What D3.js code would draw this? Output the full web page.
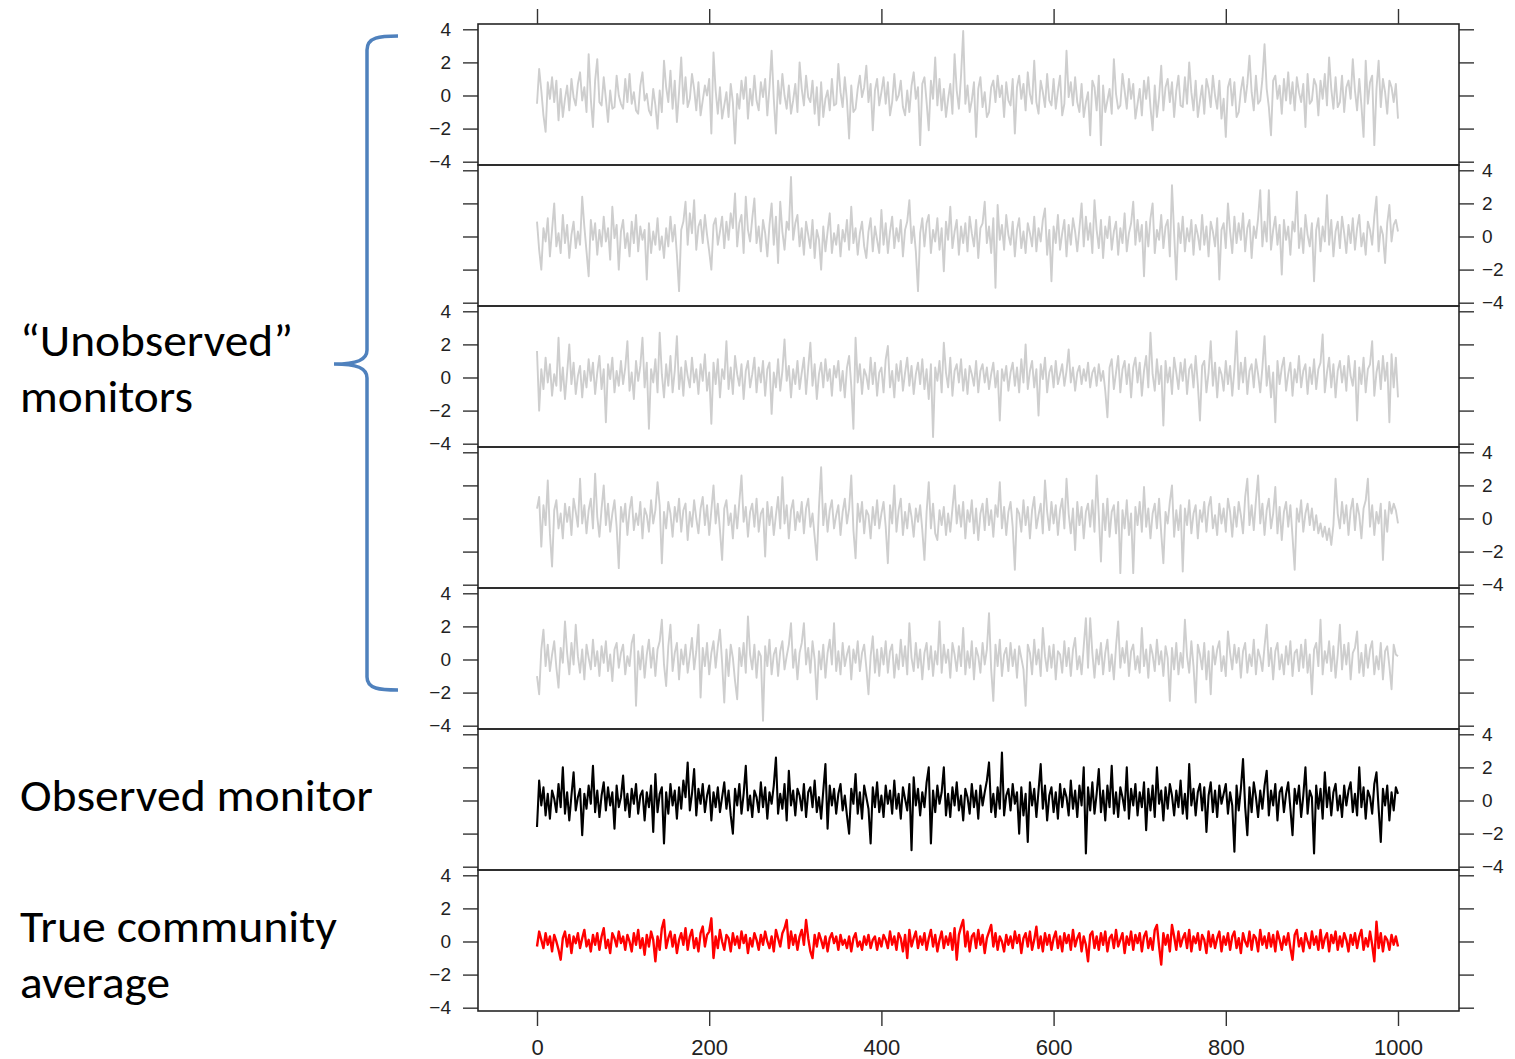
<!DOCTYPE html>
<html>
<head>
<meta charset="utf-8">
<title>Monitors vs community average</title>
<script src="https://cdn.jsdelivr.net/npm/d3@7"></script>
<style>
  html, body { margin: 0; background: #fff; }
  svg { display: block; }
</style>
</head>
<body>
<script>
// ---- Data: simulated readings, one value every 2.5 time units (0 … 1000) ----
const monitor1 = [
-0.5,1.6,0.3,-1.2,-2.2,0.8,-0.2,1.1,-0.4,0.9,-1.5,0.4,-1.3,-0.2,0.6,-0.9,1.0,-0.1,-0.6,0.7,
1.4,-0.3,0.5,-1.0,2.5,-0.2,-1.9,0.9,2.2,-0.4,-0.6,1.1,-0.2,-1.6,0.3,-0.8,-0.7,1.2,0.0,-0.5,
-0.8,1.0,-0.4,1.3,-0.5,0.2,-0.9,-1.1,0.6,1.4,-0.3,0.1,-0.9,-1.2,0.4,-0.6,-2.0,0.3,-1.0,2.1,
0.5,-0.4,1.5,-0.8,0.9,-1.6,0.2,2.3,-0.5,1.1,-0.7,-0.2,1.3,0.4,-0.9,0.8,-1.2,-0.3,0.6,0.0,
1.0,-2.3,2.6,0.3,-1.1,0.5,-1.4,-0.6,0.2,-1.3,0.7,-0.4,-2.9,0.1,-0.8,0.9,-0.2,1.1,-1.4,0.4,
-0.6,1.2,-0.3,-0.9,0.8,-0.1,1.0,-1.2,0.5,2.7,-0.2,-2.3,0.9,-0.5,1.3,0.0,-0.8,0.6,-1.1,-0.3,
0.7,-1.0,2.0,0.4,-0.6,1.2,-0.1,-0.4,0.9,-1.1,0.5,-1.8,0.8,-1.3,-0.2,0.3,-0.9,1.0,-0.6,-0.5,
1.9,0.2,-0.7,1.1,-0.3,-2.6,0.6,-1.0,-0.8,0.4,1.2,-0.1,0.5,1.8,-0.4,0.7,-2.1,0.3,1.0,-0.6,
0.2,1.1,-0.5,0.8,-1.2,-0.4,1.3,-0.3,0.0,0.9,-0.7,-1.2,0.3,-1.0,0.6,1.4,-0.2,0.5,-3.0,0.7,
1.1,-0.4,-2.1,0.9,-0.2,2.3,-0.6,1.0,-0.9,0.4,-1.3,-0.2,0.7,-1.1,2.5,0.3,-0.8,1.2,3.9,-0.5,
0.6,-1.0,-0.3,0.8,-2.5,0.4,1.1,-0.7,0.2,-1.3,-1.0,0.5,0.9,-0.4,1.2,-0.1,0.6,-1.3,0.8,-0.3,
-0.6,1.0,-2.3,0.5,1.2,-0.2,0.7,-0.9,1.4,0.1,-0.5,2.1,-0.4,-1.1,0.9,0.2,-0.7,1.3,-0.3,-0.6,
1.0,-0.8,0.3,1.2,-1.2,-0.5,2.7,-0.1,0.8,-0.6,1.1,-0.4,-1.0,0.7,-1.3,-0.4,0.2,-2.4,0.9,0.5,
-0.9,1.2,-3.0,0.6,-1.0,-0.3,0.4,-1.1,2.2,0.1,-0.8,-0.6,1.3,0.3,-0.8,1.0,-0.2,0.7,-1.4,-0.5,
0.4,-1.2,0.9,-0.2,1.1,-0.7,-2.1,0.6,-1.3,-0.1,1.8,-0.9,0.5,1.0,-0.4,0.8,-1.3,0.3,1.2,-0.6,
-0.7,1.1,-0.5,2.0,0.2,-0.9,0.9,-1.3,-0.3,0.6,-1.1,1.0,0.4,-0.7,1.2,0.0,-0.8,0.9,-1.4,-0.2,
-2.5,0.5,1.0,-0.6,0.8,-1.3,-1.0,0.3,1.1,-0.4,0.7,2.4,0.2,-0.9,1.2,-0.5,-0.3,1.0,3.1,0.4,
-0.7,-2.4,0.9,1.2,-0.2,0.6,-1.1,1.0,-0.3,1.4,-0.5,0.8,-0.9,1.1,0.2,-0.4,0.7,-1.9,1.3,-0.5,
-0.3,1.0,0.6,-1.2,0.9,-0.2,1.3,-0.6,2.3,0.4,-0.8,1.1,-0.7,-0.4,1.2,-1.0,0.5,0.9,-0.2,2.2,
0.3,-0.9,1.0,-0.6,-2.5,2.1,-0.5,0.8,1.2,-3.0,0.4,2.1,-0.7,1.0,0.2,-1.1,0.9,0.5,-0.4,0.7,
-1.4];

const monitor2 = [
0.9,-0.8,-2.0,0.5,-0.3,1.1,-1.2,0.4,2.0,-0.6,0.2,-1.0,1.3,-0.4,0.7,-1.3,0.1,0.9,-0.7,0.3,
-0.5,2.4,0.6,-0.9,-2.4,1.0,-0.2,0.8,-1.1,0.4,-0.6,1.2,-0.3,0.5,-1.4,1.8,-0.1,0.7,-2.0,0.3,
1.0,-0.7,0.2,-1.2,0.9,-0.4,1.3,-0.9,0.6,-0.2,0.4,-2.6,0.8,-1.0,0.3,-0.5,1.1,-0.8,0.0,-1.3,
0.5,-0.6,1.2,-0.3,0.7,-1.1,-3.3,0.4,0.9,2.1,-0.5,1.4,0.2,2.2,-0.8,0.6,1.0,-0.4,1.3,0.1,
-0.9,-2.0,0.7,1.1,-0.5,0.3,1.2,-0.7,0.9,-0.2,1.4,0.5,2.6,-0.6,0.8,1.3,-1.0,2.4,0.4,-0.3,
1.1,2.3,-0.4,0.6,-0.9,1.0,0.2,-1.2,0.7,2.0,-0.5,1.2,-1.6,2.1,0.3,-0.8,0.9,0.4,3.6,-0.2,
0.8,1.3,-0.6,0.5,-1.1,0.9,0.1,-0.7,1.0,-1.3,0.4,-0.2,-2.0,0.6,-0.9,0.3,1.4,-1.0,0.2,-0.5,
0.7,-1.2,0.4,-0.3,1.0,-0.8,1.8,-0.4,0.5,-1.1,0.2,0.9,-0.6,-1.3,0.3,1.1,-0.9,0.6,-0.2,-1.0,
1.6,-0.5,0.8,-1.0,0.3,1.2,-0.7,0.5,-0.3,1.0,-1.2,0.4,0.9,2.2,-0.4,0.6,-0.9,-3.3,0.2,1.1,
-0.6,0.8,1.3,-1.0,0.4,-0.3,1.1,-0.8,0.5,-2.1,0.9,-0.2,1.8,-0.7,0.3,1.0,-1.1,0.6,-0.4,0.8,
-0.9,1.2,0.2,-0.6,1.0,-1.3,0.5,0.8,2.1,-0.4,0.6,-1.0,1.1,-3.1,1.9,-0.2,0.7,-0.8,1.3,0.1,
-0.5,0.9,-1.2,0.4,1.1,-0.7,0.3,-1.0,0.8,0.2,-0.6,1.2,-0.9,0.5,-0.3,1.0,1.7,-1.1,0.4,-2.7,
0.6,-0.4,1.3,-0.8,0.2,1.0,-1.2,0.7,-0.5,1.1,0.3,-0.9,0.5,2.0,-0.6,1.2,-0.2,0.8,-1.0,2.2,
0.4,-0.7,1.0,-1.3,0.6,-0.1,1.2,-0.8,0.3,0.9,-1.1,0.5,-0.4,1.4,-0.9,0.2,0.8,2.1,-0.5,1.0,
-0.3,0.7,-2.4,0.9,-0.6,1.1,2.0,-1.0,0.4,-0.2,1.3,-0.7,0.6,1.0,-1.2,3.1,0.2,-2.6,0.8,-0.4,
1.2,-0.9,0.5,-0.3,1.0,-1.1,0.7,0.1,-0.8,1.3,-0.5,0.6,-1.2,0.9,0.3,-0.6,1.1,-2.6,0.4,0.8,
-0.7,2.0,0.3,-1.0,1.2,-0.4,0.8,-0.2,1.4,-0.9,0.5,1.0,-1.3,0.6,-0.1,1.1,2.8,-0.6,0.9,-0.3,
2.8,-0.8,0.4,1.2,-0.5,0.7,-2.3,1.0,-0.2,0.6,-1.1,0.9,0.3,2.7,-0.7,0.5,-1.0,1.3,0.1,-0.6,
0.8,-2.7,0.4,1.1,-0.9,0.6,-0.3,2.5,-0.5,1.0,-1.2,0.3,0.9,-0.7,1.2,0.2,-1.0,0.7,-0.4,1.1,
-0.8,0.5,1.3,-0.6,0.2,-1.1,0.9,0.4,-0.5,1.2,2.4,-0.9,0.6,0.1,-1.6,0.8,1.9,-0.3,0.7,1.0,
0.3];

const monitor3 = [
1.6,-2.0,0.5,-0.7,1.2,-0.3,0.8,-1.1,0.2,-0.5,2.4,-0.8,0.6,-1.3,0.3,2.0,-0.4,0.9,-1.0,0.1,
0.7,-1.2,0.4,-0.6,1.1,-0.2,0.9,-1.0,0.3,1.3,-0.7,0.5,-2.7,0.8,-0.1,1.2,-0.9,0.4,-0.5,1.0,
-0.4,0.6,2.2,-0.8,0.3,-1.3,1.0,-0.2,0.7,2.4,-0.6,0.9,-3.1,0.5,-0.3,1.1,-0.9,2.7,0.2,-1.2,
0.8,-0.5,1.3,-0.9,0.4,2.5,-0.7,0.6,-1.1,1.0,0.1,-0.6,1.2,-0.3,0.5,-1.0,0.8,-0.2,1.4,-0.8,
0.3,-2.8,0.9,-0.4,1.1,-1.2,0.5,-0.1,2.2,-0.7,0.6,-1.0,1.3,0.2,-0.5,0.8,-1.3,0.4,1.0,-0.6,
0.2,1.2,-0.9,0.6,-0.3,1.0,-1.1,0.5,0.9,-2.2,0.3,-0.6,1.1,-0.8,0.4,2.3,-0.2,0.7,-1.2,0.5,
-0.4,1.0,-0.7,0.3,1.2,-1.0,0.6,2.1,-0.5,0.8,-1.3,0.2,0.9,-0.6,1.1,-0.2,0.5,-1.1,0.7,0.0,
1.0,-0.8,0.4,-1.2,0.6,1.3,-0.5,-3.1,2.4,-0.3,0.8,-1.0,0.5,0.1,-0.7,1.2,-0.4,0.9,-1.1,0.3,
0.6,-0.9,1.1,1.9,-0.6,0.4,-1.2,0.8,-0.2,1.0,-0.8,0.3,1.2,-0.5,0.7,-1.0,0.2,0.9,-0.4,1.1,
-0.7,0.5,-1.3,0.8,-3.6,0.6,-0.2,1.0,-0.9,2.1,0.3,-0.6,1.2,-1.1,0.4,0.8,-0.3,1.1,-0.8,0.5,
-1.0,0.7,0.2,-0.5,1.0,-0.9,0.4,0.8,-0.3,0.6,-0.7,0.2,0.9,-0.6,0.4,-2.6,0.5,-0.2,0.7,-0.8,
0.3,0.9,-0.5,0.6,-0.9,1.1,-0.3,2.0,-0.7,0.4,1.0,-0.6,0.5,-2.3,0.8,-0.1,1.2,-0.9,0.3,0.7,
-0.6,1.0,-0.4,0.2,0.8,-0.5,0.4,1.7,-0.3,0.6,-0.8,0.3,0.7,-0.4,0.5,-0.2,0.9,-0.6,0.3,0.6,
-0.5,0.8,-0.2,0.4,-0.8,-2.4,0.6,1.1,-0.7,0.3,1.3,-0.9,0.5,1.0,-0.4,0.8,-1.2,0.6,1.2,-0.3,
0.9,-1.1,0.4,1.3,-0.6,2.7,0.2,-0.8,1.1,-0.4,0.7,-2.9,1.0,-0.3,0.6,-1.0,1.2,0.3,-0.7,0.9,
-0.2,1.1,-1.0,0.5,0.8,-0.6,1.3,-0.4,-2.6,0.7,1.0,-0.9,0.3,2.2,-0.5,0.9,-1.2,0.6,0.2,-0.8,
1.0,-0.4,0.7,-1.1,0.5,2.8,-0.7,0.9,-0.3,1.2,-1.0,0.4,0.8,-0.6,1.1,0.2,-0.9,0.6,2.5,-0.5,
0.7,-1.2,0.3,-2.7,1.0,-0.4,0.6,1.2,-0.8,0.2,0.9,-1.1,0.5,-0.3,1.3,-0.6,0.4,0.8,-1.0,0.6,
-0.4,1.1,-0.7,0.5,0.9,2.6,-0.9,0.3,1.2,-0.6,0.8,-1.2,0.4,1.0,-0.3,0.7,-0.8,1.3,0.1,-0.5,
1.0,-2.6,0.6,-0.4,1.2,-0.9,0.5,0.8,2.2,-1.1,0.3,1.0,-0.7,1.3,-0.2,0.9,-2.7,1.4,-0.6,1.2,
-1.2];

const monitor4 = [
0.6,1.3,-1.7,0.8,-0.4,2.3,-0.9,-2.9,0.5,1.1,-0.6,0.3,-1.2,0.9,-0.2,0.7,-1.0,1.2,0.4,-0.5,
2.4,-0.3,0.8,-0.9,0.5,1.2,-0.6,2.7,0.1,-1.1,0.6,2.0,-0.4,0.9,-0.8,0.3,1.1,-0.5,-3.0,0.7,
-0.2,0.9,-1.0,0.5,1.3,-0.7,0.3,-0.4,1.0,-1.2,0.6,0.2,-0.8,1.1,-0.3,0.5,2.2,0.8,-2.7,0.4,
-0.6,1.0,0.3,-1.1,0.7,-0.2,1.2,-0.8,0.5,0.9,-1.3,0.4,-0.5,1.1,0.0,-0.9,0.6,1.3,-0.4,0.8,
-1.0,0.5,2.0,-0.3,0.9,-0.7,-2.5,0.6,1.1,-0.4,0.3,-1.2,0.8,-0.6,1.0,2.6,-0.2,0.7,-1.1,0.4,
0.9,-0.5,1.2,-0.8,0.3,0.6,-2.3,1.0,-0.4,0.7,-1.0,0.2,1.3,-0.6,2.5,-0.3,0.8,-1.2,0.5,1.1,
-0.7,0.4,-0.2,1.0,-0.9,0.6,1.2,-0.5,0.3,-1.1,-2.5,0.7,3.1,-0.4,0.9,-0.8,0.5,1.1,-0.6,0.2,
0.8,-1.0,0.4,1.2,-0.3,0.6,2.6,-0.7,-2.4,0.9,-0.2,1.0,-0.9,0.5,0.2,-1.2,0.7,-0.4,1.1,-0.6,
0.3,1.0,-0.5,-2.7,0.8,-0.3,2.0,-0.8,0.5,1.2,-1.0,0.4,-0.6,0.9,0.1,-1.1,0.6,-0.2,0.8,-0.7,
-2.5,0.4,2.2,-0.6,0.9,-0.9,-1.3,0.5,-0.4,0.7,-1.0,0.3,-0.8,0.6,2.0,-0.3,0.8,-0.5,1.0,-1.2,
0.5,-0.2,1.1,-0.9,0.6,-1.3,0.3,0.9,-0.7,1.2,-0.4,0.5,-1.1,0.8,0.1,2.2,-0.6,0.7,-1.0,0.4,
1.0,-0.5,-3.1,0.6,0.3,-0.8,1.1,-0.4,0.7,-1.2,0.5,1.3,-0.6,0.2,0.9,-0.9,2.3,0.4,-0.7,1.0,
-0.3,0.8,-1.0,0.5,1.2,-0.6,2.4,0.3,-0.9,0.6,-1.9,1.0,-0.4,0.7,-1.2,0.4,0.9,-0.5,1.1,-0.8,
2.6,0.2,-2.6,0.9,-0.7,1.2,-1.1,0.4,0.8,-0.9,1.0,-3.3,0.5,-0.6,1.1,-1.0,0.3,-3.3,0.7,-0.4,
1.0,-0.8,1.9,-0.5,0.6,-1.2,0.3,0.9,-0.6,1.2,-0.9,-2.7,0.4,-0.3,1.0,2.0,-1.1,0.5,-0.7,0.8,
-3.2,0.6,-0.4,1.1,-0.9,0.3,0.8,-1.2,0.5,-0.2,1.0,-0.8,0.7,1.3,-0.6,0.2,-1.0,0.9,-0.3,0.6,
-0.8,1.2,0.4,-1.1,0.7,-0.5,1.0,0.2,-0.9,1.3,2.4,-0.4,0.8,-0.7,1.1,2.6,-0.3,0.9,-1.0,0.5,
1.2,-0.6,0.3,1.9,-0.9,0.7,-1.3,0.4,1.0,-0.5,0.8,-1.1,-3.1,0.6,-0.2,1.1,-0.8,0.3,0.9,-0.4,
0.6,-0.7,0.2,-0.9,-0.3,-1.1,-0.5,-1.3,-0.6,-1.6,-0.4,2.4,0.3,-0.6,1.0,-0.3,0.8,-1.0,0.5,1.2,
-0.7,0.9,0.2,-1.2,0.6,1.1,2.4,-0.5,0.8,-1.0,0.4,-0.3,0.9,-2.5,0.5,-0.8,1.0,0.3,0.9,0.5,
-0.3];

const monitor5 = [
-1.0,-2.1,0.6,1.8,-0.4,0.9,-0.7,0.3,1.1,-0.5,-1.7,0.7,-0.2,2.3,0.4,-0.9,1.0,-0.3,2.1,0.2,
-0.8,0.6,-1.2,0.9,0.1,-0.6,1.2,-0.4,0.5,-1.0,0.8,-0.2,1.1,-0.7,0.3,-1.3,0.6,1.0,-0.5,0.4,
0.9,-0.9,0.2,-0.4,1.0,1.5,-2.8,0.5,-0.6,0.8,-1.1,0.3,1.2,-0.5,0.7,-1.0,0.6,1.1,2.4,-0.3,
-1.6,0.8,2.1,-0.7,0.4,1.0,-1.2,0.6,-0.3,0.9,-0.8,0.2,1.3,-0.6,0.5,2.1,-2.3,0.7,-0.4,1.0,
-0.9,0.4,1.1,-0.5,0.8,1.8,-0.2,-2.6,0.6,-1.0,0.9,0.1,-1.3,-2.4,0.7,-0.4,1.0,-0.8,2.6,0.3,
-0.6,0.9,-1.1,0.5,0.2,-3.7,0.8,-0.4,1.2,-0.9,0.3,0.7,-1.0,0.5,1.1,-0.6,0.2,0.9,2.2,-0.5,
0.6,-1.2,0.4,1.0,2.2,-0.3,0.7,-0.8,1.1,0.0,-2.4,0.5,-0.6,0.9,-1.1,0.4,1.2,-0.3,2.2,-0.7,
0.5,-0.9,1.0,-0.4,0.3,0.8,-1.2,0.6,-0.2,1.1,-0.7,0.4,0.9,-0.5,-2.1,0.2,1.4,-0.8,0.6,-1.0,
0.7,-0.3,1.1,-0.8,0.5,0.9,-1.1,0.3,-0.6,1.2,-0.4,0.8,-0.9,2.2,0.1,-0.7,1.0,-0.5,0.6,-1.2,
0.4,1.0,-0.6,0.8,-1.0,0.5,-0.3,2.3,-0.8,0.9,-0.2,0.6,-1.1,1.0,0.3,-0.7,0.8,-0.4,1.9,-0.9,
0.5,-0.5,1.1,-1.2,0.7,0.2,-0.8,1.0,-0.3,0.6,2.8,-0.6,-2.5,0.9,-0.4,1.2,-1.0,0.3,0.7,-0.7,
1.0,-0.4,0.6,-1.1,0.8,0.1,-0.6,-2.8,0.9,0.4,-0.9,1.2,-0.3,0.6,-1.0,1.9,0.2,-0.7,0.8,-0.5,
0.9,-1.2,0.5,0.3,-0.8,1.1,-0.4,0.7,-1.0,0.6,1.3,-0.6,0.2,-0.9,0.8,2.5,-0.5,2.5,0.4,-1.1,
0.6,-0.3,1.0,-0.9,0.4,1.2,-0.7,0.3,-1.2,0.8,2.3,-0.5,0.7,-0.2,1.1,-1.0,0.5,0.9,-0.6,0.2,
-0.8,1.9,-0.4,0.6,-1.1,0.9,0.3,-0.7,1.2,-0.3,0.5,-1.0,0.8,0.1,-2.5,0.7,-0.6,1.0,-0.9,0.4,
-0.5,2.4,0.2,-0.8,1.1,-0.4,-2.6,0.9,0.3,-0.6,1.0,-1.2,0.5,-2.1,0.8,-0.3,0.6,1.1,-0.7,0.2,
-1.0,1.7,0.4,-0.6,0.9,-0.2,0.7,-1.1,0.5,1.0,-0.8,0.3,-0.4,1.2,-0.9,0.6,0.1,-0.7,0.8,2.1,
-0.4,0.7,-1.2,0.5,1.0,-0.6,0.3,-0.9,0.8,-0.3,1.1,-1.0,0.4,0.6,-0.7,0.9,-0.5,1.2,-0.8,0.3,
-2.1,0.6,1.0,-0.4,2.4,-0.9,0.5,-0.2,1.1,-0.7,0.8,-1.1,0.3,2.1,-0.6,0.9,-0.3,1.0,-1.2,0.4,
0.7,1.7,-0.8,0.4,-1.0,0.9,-0.5,0.6,1.1,-0.9,0.2,-0.6,1.0,-1.2,0.5,0.8,-0.4,-1.8,0.9,0.3,
0.2];

const observedMonitor = [
-1.6,1.2,-0.3,0.8,-0.9,0.4,-1.1,0.6,0.1,-0.7,1.0,-0.4,2.0,-0.8,0.5,-1.2,0.3,1.7,-0.6,0.2,
0.7,-2.1,0.4,-0.5,0.9,-0.2,2.1,-0.7,0.6,-1.0,0.3,1.1,-0.6,0.8,-0.3,0.5,-1.7,0.9,-0.4,0.2,
1.5,-0.6,0.4,-1.0,0.7,-0.2,1.0,-0.8,0.3,0.6,-1.2,0.5,-0.4,0.9,-1.9,1.6,-0.7,0.4,0.8,-2.6,
0.5,-0.8,1.0,-0.3,0.6,-1.1,0.8,-0.5,1.2,0.2,2.3,-0.6,0.4,1.9,-0.9,0.7,-0.2,1.0,-0.7,0.3,
0.9,-1.2,0.5,-0.4,0.8,-0.7,0.2,1.1,-0.5,0.6,-0.9,-2.0,0.7,-0.3,1.0,-0.8,0.4,2.1,-0.6,0.3,
-1.0,0.6,0.2,-0.7,1.1,-0.4,0.8,-1.1,0.5,-0.2,0.9,2.6,-0.8,0.4,-0.5,1.0,-1.2,1.8,-0.3,0.6,
-0.9,0.7,0.3,-0.6,1.0,-1.0,0.5,0.8,-0.4,1.2,-0.7,0.2,-1.1,0.6,2.2,-1.7,0.9,-0.3,0.7,-0.8,
0.4,1.0,-0.6,0.3,-0.9,-2.0,0.7,-0.2,1.6,-0.8,0.5,-1.1,0.9,0.2,-0.5,-2.6,0.8,-0.4,1.1,-0.7,
0.3,-1.0,0.9,-0.2,0.6,-0.8,1.2,-0.5,0.4,-1.1,0.8,0.1,-0.6,1.0,-3.0,1.4,-0.3,0.7,-0.9,0.5,
-0.4,1.1,2.0,-2.6,0.6,-0.7,0.9,-0.2,0.5,2.0,-0.9,0.4,-1.0,0.8,-0.3,1.1,-0.6,0.3,-1.2,0.7,
0.2,-0.8,1.0,-0.4,0.6,-1.1,0.9,-0.3,0.5,1.2,2.3,-0.7,0.4,-1.0,0.8,-0.5,2.9,-0.9,0.3,0.7,
-0.6,1.0,-0.2,0.5,-2.0,0.8,-0.9,0.4,-2.5,1.1,-0.3,0.7,-1.0,0.6,2.2,-0.5,0.9,-1.2,0.3,0.8,
-0.7,0.5,-1.1,1.0,-0.4,0.7,0.2,-0.9,1.2,-0.5,0.6,-1.0,0.9,-0.3,2.0,-3.2,0.8,-0.6,1.1,-0.8,
0.4,1.9,-0.7,0.6,-1.2,0.9,-0.4,2.1,-0.8,0.5,-1.0,0.8,0.2,-0.6,2.0,-1.1,0.7,-0.3,1.0,-0.9,
0.5,-0.4,1.1,-1.8,0.7,-0.6,0.9,-1.0,2.0,-0.2,0.6,-1.2,0.8,-0.5,1.0,0.3,-0.9,0.6,-0.4,1.2,
-0.8,0.4,-1.1,2.2,-0.3,0.7,-0.9,0.5,1.0,-0.6,0.8,-1.9,0.3,1.1,-0.7,0.6,-1.0,0.9,-0.2,0.4,
1.0,-0.8,0.5,-0.3,-3.1,0.9,-0.6,0.7,2.5,-0.4,-2.1,0.8,-0.7,1.1,0.2,-1.0,0.6,-0.5,0.9,1.8,
-0.9,0.6,-0.3,1.0,-1.2,0.5,0.8,-0.7,0.4,1.1,-0.5,-2.1,0.7,-0.2,0.9,-1.0,0.3,2.0,-0.8,0.6,
0.2,-3.2,0.9,-0.5,0.7,-1.1,1.7,-0.4,0.8,-0.9,0.5,1.0,-0.6,0.3,-1.0,0.9,-0.3,0.6,1.1,-0.7,
0.4,-0.9,2.0,-0.4,0.8,-1.1,0.6,0.2,-0.8,1.0,1.7,-0.5,-2.5,0.7,-0.3,0.9,-1.2,0.5,-0.6,0.8,
0.4];

const communityAverage = [
-0.3,0.6,0.1,-0.4,0.5,-0.2,0.3,-0.6,0.4,0.0,-0.5,-1.1,0.2,0.6,-0.3,0.4,-0.7,0.3,-0.1,0.5,
-0.4,0.2,0.7,-0.3,0.1,-0.6,0.4,-0.2,0.5,-0.5,0.3,0.8,-0.4,0.1,-0.7,0.5,0.2,-0.3,0.6,-0.1,
0.3,-0.5,0.4,0.0,-0.6,0.5,-0.2,0.7,-0.4,0.2,-0.8,0.4,-0.3,0.6,0.1,-1.2,0.3,-0.5,0.8,1.3,
-0.4,0.2,0.6,-0.3,0.4,-0.7,0.1,0.5,-0.2,0.8,-0.5,0.3,0.7,-0.4,0.2,-0.6,0.5,0.9,-0.3,0.4,
0.6,1.4,-1.0,0.3,-0.4,0.7,0.0,-0.5,0.4,0.2,-0.6,0.5,-0.2,0.3,-0.4,0.6,-0.1,0.4,-0.7,0.2,
-0.3,0.5,0.1,-0.5,0.4,-0.2,0.6,0.0,-0.4,0.3,-0.6,0.7,0.2,-0.3,0.5,0.8,1.3,-0.4,0.6,-0.2,
0.4,-0.5,0.3,0.7,-0.2,1.3,0.2,-0.6,-1.0,0.4,-0.3,0.5,0.1,-0.4,0.3,-0.6,0.2,0.5,-0.1,0.3,
-0.5,0.4,-0.2,0.1,-0.4,0.3,-0.6,0.2,0.5,-0.3,0.0,-0.5,0.3,-0.2,0.4,-0.4,0.1,0.3,-0.5,0.2,
-0.3,0.4,0.1,-0.4,0.6,-0.2,0.3,-0.5,0.5,0.2,-0.6,0.4,-1.0,0.7,-0.3,0.2,0.6,-0.4,0.3,-0.2,
0.5,-0.5,0.2,0.7,-0.3,0.4,-0.6,0.1,0.6,-0.4,0.3,-0.2,0.5,-0.5,0.8,-1.1,0.4,0.9,1.3,-0.3,
0.6,-0.6,0.3,0.5,-0.4,0.7,-0.2,0.4,-0.7,0.2,0.6,1.0,-0.3,0.5,-0.5,0.3,0.0,-0.6,0.4,-0.2,
0.3,-0.4,0.6,-0.1,0.4,-0.7,0.2,0.5,-0.3,0.6,-0.5,0.1,0.9,-0.4,0.3,-0.6,0.5,-0.2,0.4,-0.5,
0.2,0.6,-0.4,0.3,-0.6,0.5,-0.1,0.4,-0.5,0.7,-0.3,0.2,0.5,-0.6,0.3,-0.2,-1.2,0.4,0.6,-0.4,
0.3,-0.5,0.5,-0.2,0.6,-0.6,0.2,0.4,-0.4,0.7,-0.3,0.1,0.5,-0.7,0.3,-0.2,0.6,-0.5,0.4,-0.1,
0.5,-0.6,0.3,0.6,-0.4,0.2,-0.5,0.7,1.0,-0.3,-1.4,0.5,-0.2,0.4,-0.6,1.0,0.3,-0.5,0.6,-0.3,
0.2,0.5,-0.4,0.7,-0.6,0.3,-0.1,0.5,-0.5,0.4,0.1,-0.7,0.6,-0.3,0.4,-0.4,0.2,0.6,-0.6,0.3,
-0.2,0.5,-0.5,0.3,0.6,-0.4,0.2,-0.7,0.5,0.0,-0.3,0.6,-0.5,0.4,0.2,-0.6,0.7,-0.2,0.3,-0.4,
0.5,-0.3,0.4,-0.6,0.6,0.1,-0.5,0.3,-0.2,0.5,-0.4,-1.1,0.4,0.7,-0.3,0.2,-0.6,0.5,0.0,-0.4,
0.6,-0.2,0.3,-0.5,0.7,-0.4,0.2,0.5,-0.6,0.4,-0.1,0.6,-0.5,0.3,-0.3,0.5,0.1,-0.6,0.4,-0.2,
0.5,-0.4,0.3,0.7,-0.5,0.2,-0.3,0.6,-0.2,-1.2,1.2,-0.4,0.5,-0.6,0.3,0.1,-0.5,0.4,-0.2,0.3,
-0.3];

// Sampling interval of the series above, in time units
const timeStep = 2.5;

// Axis ticks
const xTicks = [0, 200, 400, 600, 800, 1000];
const yTicks = [-4, -2, 0, 2, 4];

// Panels, top to bottom
const panels = [
  { values: monitor1,         color: "#cecece", width: 1.9 },
  { values: monitor2,         color: "#cecece", width: 1.9 },
  { values: monitor3,         color: "#cecece", width: 1.9 },
  { values: monitor4,         color: "#cecece", width: 1.9 },
  { values: monitor5,         color: "#cecece", width: 1.9 },
  { values: observedMonitor,  color: "#000000", width: 2.1 },
  { values: communityAverage, color: "#ff0000", width: 2.4 }
];

// ---- Layout ----
const W = 1515, H = 1059;
const frameLeft = 478, frameRight = 1459;
const frameTop = 24, panelH = 141;
const tickLen = 15;
const labelFont = "'Liberation Sans', Arial, Helvetica, sans-serif";
const annotFont = "Carlito, Calibri, Lato, 'Open Sans', sans-serif";

const svg = d3.select("body").append("svg")
  .attr("width", W).attr("height", H)
  .attr("viewBox", `0 0 ${W} ${H}`);

const x = d3.scaleLinear().domain([0, 1000]).range([537, 1398]);
const y = d3.scaleLinear().domain([-4.2, 4.32]).range([panelH, 0]);

const line = d3.line()
  .x((d, i) => x(i * timeStep))
  .y(d => y(d));

const fmt = d3.format("d"); // uses the typographic minus sign

panels.forEach((p, k) => {
  const top = frameTop + k * panelH;
  const g = svg.append("g").attr("transform", `translate(0,${top})`);

  // series trace
  g.append("path")
    .datum(p.values)
    .attr("fill", "none")
    .attr("stroke", p.color)
    .attr("stroke-width", p.width)
    .attr("stroke-linejoin", "round")
    .attr("d", line);

  // left axis (labels on panels 1,3,5,7)
  const left = d3.axisLeft(y).tickValues(yTicks).tickSize(tickLen).tickPadding(12)
    .tickFormat(k % 2 === 0 ? fmt : () => "");
  const gl = g.append("g").attr("transform", `translate(${frameLeft},0)`).call(left);

  // right axis (labels on panels 2,4,6)
  const right = d3.axisRight(y).tickValues(yTicks).tickSize(tickLen).tickPadding(8)
    .tickFormat(k % 2 === 1 ? fmt : () => "");
  const gr = g.append("g").attr("transform", `translate(${frameRight},0)`).call(right);

  [gl, gr].forEach(a => {
    a.select(".domain").remove();
    a.selectAll(".tick line").attr("stroke", "#333").attr("stroke-width", 1.4);
    a.selectAll(".tick text")
      .attr("fill", "#222")
      .style("font-family", labelFont)
      .style("font-size", "19px");
  });

  // panel frame
  g.append("rect")
    .attr("x", frameLeft).attr("y", 0)
    .attr("width", frameRight - frameLeft).attr("height", panelH)
    .attr("fill", "none")
    .attr("stroke", "#262626")
    .attr("stroke-width", 1.6);
});

// top ticks (no labels)
const topAxis = svg.append("g").attr("transform", `translate(0,${frameTop})`)
  .call(d3.axisTop(x).tickValues(xTicks).tickSize(tickLen).tickFormat(() => ""));
topAxis.select(".domain").remove();
topAxis.selectAll(".tick line").attr("stroke", "#333").attr("stroke-width", 1.4);

// bottom axis with labels
const frameBottom = frameTop + panels.length * panelH;
const bottomAxis = svg.append("g").attr("transform", `translate(0,${frameBottom})`)
  .call(d3.axisBottom(x).tickValues(xTicks).tickSize(tickLen).tickPadding(13).tickFormat(fmt));
bottomAxis.select(".domain").remove();
bottomAxis.selectAll(".tick line").attr("stroke", "#333").attr("stroke-width", 1.4);
bottomAxis.selectAll(".tick text")
  .attr("fill", "#222")
  .style("font-family", labelFont)
  .style("font-size", "22px");

// ---- Annotations on the left ----
const notes = [
  { text: "\u201CUnobserved\u201D", x: 20, y: 356, w: 273 },
  { text: "monitors",               x: 20, y: 412, w: 173 },
  { text: "Observed monitor",       x: 20, y: 811, w: 353 },
  { text: "True community",         x: 20, y: 942, w: 317 },
  { text: "average",                x: 20, y: 998, w: 150 }
];
svg.append("g").selectAll("text").data(notes).join("text")
  .attr("x", d => d.x).attr("y", d => d.y)
  .attr("textLength", d => d.w)
  .attr("lengthAdjust", "spacingAndGlyphs")
  .attr("fill", "#000")
  .style("font-family", annotFont)
  .style("font-size", "45px")
  .text(d => d.text);

// curly brace grouping the unobserved monitors
svg.append("path")
  .attr("d", "M398,36 C380,36 367,37 367,50 L367,350 C367,360 357,364 334,364 C357,364 367,368 367,378 L367,677 C367,689 380,690 398,690")
  .attr("fill", "none")
  .attr("stroke", "#4f81bd")
  .attr("stroke-width", 3.5);
</script>
</body>
</html>
